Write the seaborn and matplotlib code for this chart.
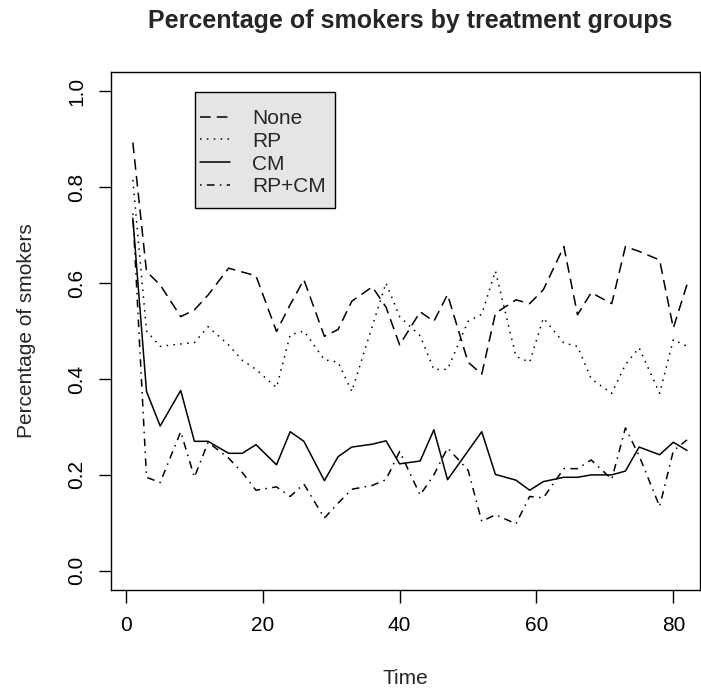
# Percentage of smokers by treatment groups
import pandas as pd
import matplotlib
matplotlib.use("Agg")
import matplotlib.pyplot as plt
from matplotlib.patches import Rectangle
import seaborn as sns

# ------------------------------
# data
# ------------------------------
times = [1, 3, 5, 8, 10, 12, 15, 17, 19, 22, 24, 26, 29, 31, 33, 36, 38, 40,
         43, 45, 47, 50, 52, 54, 57, 59, 61, 64, 66, 68, 71, 73, 75, 78, 80, 82]

none_pct = [0.893, 0.624, 0.596, 0.530, 0.544, 0.575, 0.631, 0.623, 0.615, 0.499,
            0.555, 0.607, 0.489, 0.503, 0.562, 0.592, 0.550, 0.471, 0.540, 0.520,
            0.576, 0.435, 0.410, 0.537, 0.565, 0.557, 0.586, 0.676, 0.534, 0.580,
            0.557, 0.676, 0.666, 0.648, 0.506, 0.597]

rp_pct = [0.815, 0.500, 0.468, 0.473, 0.476, 0.509, 0.471, 0.439, 0.420, 0.382,
          0.492, 0.500, 0.440, 0.435, 0.374, 0.510, 0.600, 0.530, 0.490, 0.420,
          0.420, 0.520, 0.535, 0.625, 0.447, 0.435, 0.527, 0.475, 0.468, 0.400,
          0.370, 0.430, 0.465, 0.370, 0.482, 0.468]

cm_pct = [0.735, 0.374, 0.302, 0.376, 0.270, 0.270, 0.245, 0.245, 0.263, 0.221,
          0.290, 0.270, 0.188, 0.238, 0.258, 0.264, 0.271, 0.223, 0.229, 0.294,
          0.190, 0.250, 0.290, 0.201, 0.189, 0.168, 0.186, 0.195, 0.195, 0.200,
          0.200, 0.208, 0.258, 0.242, 0.268, 0.251]

rpcm_pct = [0.745, 0.195, 0.184, 0.290, 0.195, 0.268, 0.235, 0.205, 0.168, 0.175,
            0.155, 0.181, 0.110, 0.141, 0.170, 0.178, 0.190, 0.249, 0.158, 0.200,
            0.256, 0.210, 0.103, 0.117, 0.098, 0.155, 0.152, 0.213, 0.213, 0.231,
            0.191, 0.298, 0.240, 0.134, 0.250, 0.273]

groups = ["None", "RP", "CM", "RP+CM"]
series = [none_pct, rp_pct, cm_pct, rpcm_pct]

x_ticks = [0, 20, 40, 60, 80]
y_ticks = [0.0, 0.2, 0.4, 0.6, 0.8, 1.0]
y_tick_labels = ["0.0", "0.2", "0.4", "0.6", "0.8", "1.0"]

# long format table for seaborn
df = pd.concat(
    [pd.DataFrame({"Time": times, "Pct": vals, "Group": g})
     for g, vals in zip(groups, series)],
    ignore_index=True
)

# ------------------------------
# style
# ------------------------------
sns.set_style("white")
plt.rcParams["font.family"] = ["Liberation Sans", "DejaVu Sans"]

dash_styles = {
    "None": (7, 4),
    "RP": (1, 3.5),
    "CM": "",
    "RP+CM": (1, 3.5, 5, 3.5),
}

fig = plt.figure(figsize=(7.01, 6.94), dpi=100)
ax = fig.add_axes([111 / 701, 104 / 694, (700 - 111) / 701, 518 / 694])

sns.lineplot(
    data=df, x="Time", y="Pct",
    style="Group", style_order=groups, dashes=dash_styles,
    color="black", linewidth=1.1, errorbar=None,
    legend=False, ax=ax
)

ax.set_xlim(-2.19, 83.9)
ax.set_ylim(-0.04, 1.04)
ax.set_xticks(x_ticks)
ax.set_yticks(y_ticks)
ax.set_yticklabels(y_tick_labels, rotation=90, va="center")

for side in ["left", "right", "top", "bottom"]:
    ax.spines[side].set_visible(True)
    ax.spines[side].set_color("black")
    ax.spines[side].set_linewidth(1.0)

ax.tick_params(direction="out", length=9, width=1, labelsize=15,
               colors="black", left=True, bottom=True)
ax.tick_params(axis="x", pad=10)
ax.tick_params(axis="y", pad=9)

ax.set_xlabel("Time", fontsize=15, labelpad=24)
ax.set_ylabel("Percentage of smokers", fontsize=15, labelpad=22)

fig.text(410 / 701, 1 - 28 / 694, "Percentage of smokers by treatment groups",
         ha="center", va="baseline", fontsize=18, fontweight="bold")

# legend: grey box drawn by hand (inside the axes), entries on top of it
box = Rectangle((195 / 701, 1 - 208 / 694), 140 / 701, 116 / 694,
                transform=fig.transFigure, facecolor="#e5e5e5",
                edgecolor="black", linewidth=1.0, zorder=4, clip_on=False)
ax.add_patch(box)

handles = ax.get_lines()[:4]
leg = ax.legend(
    handles, groups,
    loc="upper left", bbox_to_anchor=(200 / 701, 1 - 109 / 694),
    bbox_transform=fig.transFigure, borderaxespad=0, borderpad=0,
    fontsize=15, frameon=False,
    handlelength=1.45, handletextpad=1.05, labelspacing=0.18
)
leg.set_zorder(5)

fig.savefig("out.png", dpi=100)
